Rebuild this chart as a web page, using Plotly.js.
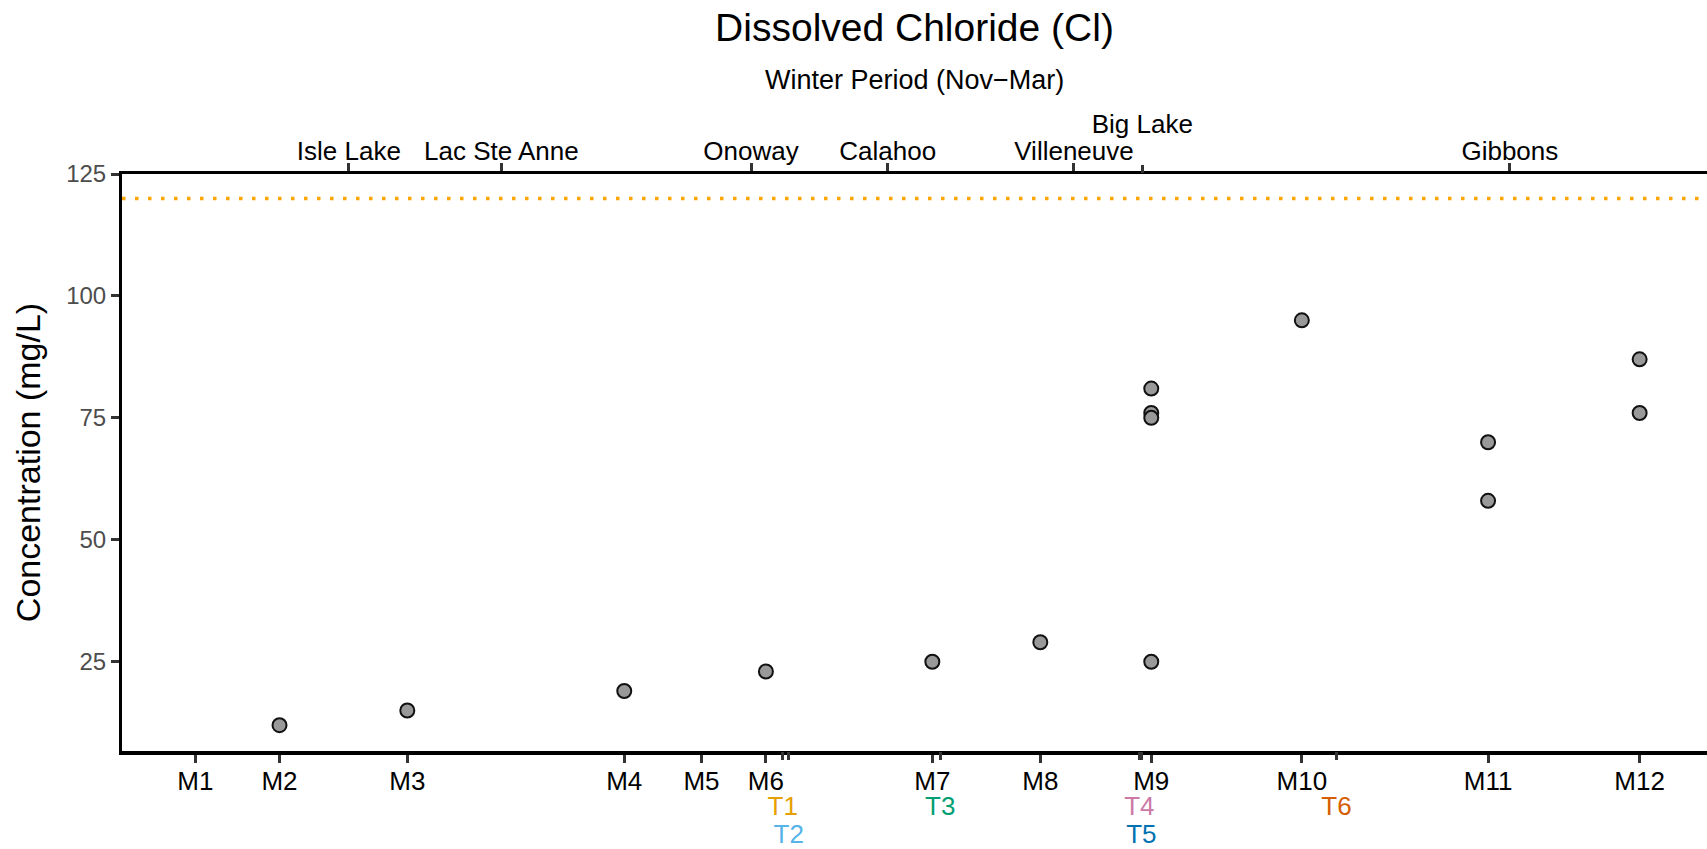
<!DOCTYPE html>
<html>
<head>
<meta charset="utf-8">
<script src="https://cdn.plot.ly/plotly-3.0.1.min.js"></script>
<style>html,body{margin:0;padding:0;background:#fff;}#chart{width:1707px;height:849px;}</style>
</head>
<body>
<div id="chart"></div>
<script>
// ---- data ----
const mSites = ['M1','M2','M3','M4','M5','M6','M7','M8','M9','M10','M11','M12'];
const mPos   = [7.4, 15.9, 28.8, 50.7, 58.5, 65.0, 81.8, 92.7, 103.9, 119.1, 137.9, 153.2];
const tSites = ['T1','T2','T3','T4','T5','T6'];
const tPos   = [66.7, 67.3, 82.6, 102.7, 102.9, 122.6];
const tColors = ['#E69F00','#56B4E9','#009E73','#CC79A7','#0072B2','#D55E00'];
const tRow   = [1, 2, 1, 1, 2, 1];
const towns  = ['Isle Lake','Lac Ste Anne','Onoway','Calahoo','Villeneuve','Big Lake','Gibbons'];
const townPos = [22.9, 38.3, 63.5, 77.3, 96.1, 103.0, 140.1];
const townRow = [0, 0, 0, 0, 0, 1, 0];
const sampleSite = ['M2','M3','M4','M6','M7','M8','M9','M9','M9','M9','M10','M11','M11','M12','M12'];
const sampleCl   = [12, 15, 19, 23, 25, 29, 81, 76, 75, 25, 95, 70, 58, 87, 76];
const guideline  = [120];
const yTicks = [25, 50, 75, 100, 125];

// ---- build ----
const FONT = 'Liberation Sans, Arial, sans-serif';
const xr = [0, 160];
const yr = [6.7, 125];
const sampleX = sampleSite.map(s => mPos[mSites.indexOf(s)]);

function pick(arr, rows, r) { return arr.filter((_, i) => rows[i] === r); }
function tLabels(r) {
  return tSites.map((t, i) => ({t, i})).filter(o => tRow[o.i] === r)
    .map(o => '<span style="color:' + tColors[o.i] + '">' + o.t + '</span>');
}

const tickStyle = {
  ticks: 'outside', ticklen: 8, tickwidth: 2.5, tickcolor: '#333',
  showgrid: false, zeroline: false, tickangle: 0, tickmode: 'array', range: xr
};
function ax(extra) { return Object.assign({}, tickStyle, extra); }

const traces = [{
  type: 'scatter', mode: 'markers',
  x: sampleX, y: sampleCl,
  marker: {size: 14, color: '#999999', line: {color: '#111111', width: 2}},
  hoverinfo: 'x+y', showlegend: false
}];
['x2','x3','x4','x5'].forEach(a => traces.push({
  type: 'scatter', mode: 'markers', x: xr, y: yr, xaxis: a,
  marker: {opacity: 0}, hoverinfo: 'skip', showlegend: false
}));

const layout = {
  width: 1707, height: 849,
  margin: {l: 122, r: 0, t: 174, b: 98},
  paper_bgcolor: '#fff', plot_bgcolor: '#fff',
  font: {family: FONT, color: '#000'},
  title: {
    text: 'Dissolved Chloride (Cl)',
    font: {family: FONT, size: 39, color: '#000'},
    x: 0.5, xref: 'paper', y: 1 - 27/849, yref: 'container', yanchor: 'middle'
  },
  annotations: [{
    text: 'Winter Period (Nov\u2212Mar)', showarrow: false,
    xref: 'paper', yref: 'paper', x: 0.5, y: (751 - 79.5)/577, yanchor: 'middle',
    font: {family: FONT, size: 27, color: '#000'}
  }],
  xaxis: ax({
    tickvals: mPos, ticktext: mSites,
    showline: true, linecolor: '#000', linewidth: 3.5,
    ticklabelstandoff: -4,
    tickfont: {family: FONT, size: 26, color: '#000'}
  }),
  xaxis3: ax({
    overlaying: 'x', side: 'bottom', anchor: 'y',
    tickvals: pick(tPos, tRow, 1), ticktext: tLabels(1),
    showline: false, ticklabelstandoff: 24,
    tickfont: {family: FONT, size: 26, color: '#000'}
  }),
  xaxis4: ax({
    overlaying: 'x', side: 'bottom', anchor: 'y',
    tickvals: pick(tPos, tRow, 2), ticktext: tLabels(2),
    showline: false, ticklabelstandoff: 52,
    tickfont: {family: FONT, size: 26, color: '#000'}
  }),
  xaxis2: ax({
    overlaying: 'x', side: 'top', anchor: 'y',
    tickvals: pick(townPos, townRow, 0), ticktext: pick(towns, townRow, 0),
    showline: true, linecolor: '#000', linewidth: 2.5,
    ticklabelstandoff: -7,
    tickfont: {family: FONT, size: 26, color: '#000'}
  }),
  xaxis5: ax({
    overlaying: 'x', side: 'top', anchor: 'y',
    tickvals: pick(townPos, townRow, 1), ticktext: pick(towns, townRow, 1),
    showline: false, ticklabelstandoff: 22,
    tickfont: {family: FONT, size: 26, color: '#000'}
  }),
  yaxis: {
    range: yr, tickmode: 'array', tickvals: yTicks, ticktext: yTicks.map(String),
    showgrid: false, zeroline: false,
    showline: true, linecolor: '#000', linewidth: 3,
    ticks: 'outside', ticklen: 8, tickwidth: 2.5, tickcolor: '#333',
    tickfont: {family: FONT, size: 24, color: '#4D4D4D'},
    title: {text: 'Concentration (mg/L)', font: {family: FONT, size: 34, color: '#000'}, standoff: 16}
  },
  shapes: guideline.map(g => ({
    type: 'line', xref: 'paper', yref: 'y', x0: 0, x1: 1, y0: g, y1: g,
    line: {color: '#FFA500', width: 3.5, dash: '3.5px,9.5px'}
  }))
};

Plotly.newPlot('chart', traces, layout, {displayModeBar: false, responsive: false});
</script>
</body>
</html>
